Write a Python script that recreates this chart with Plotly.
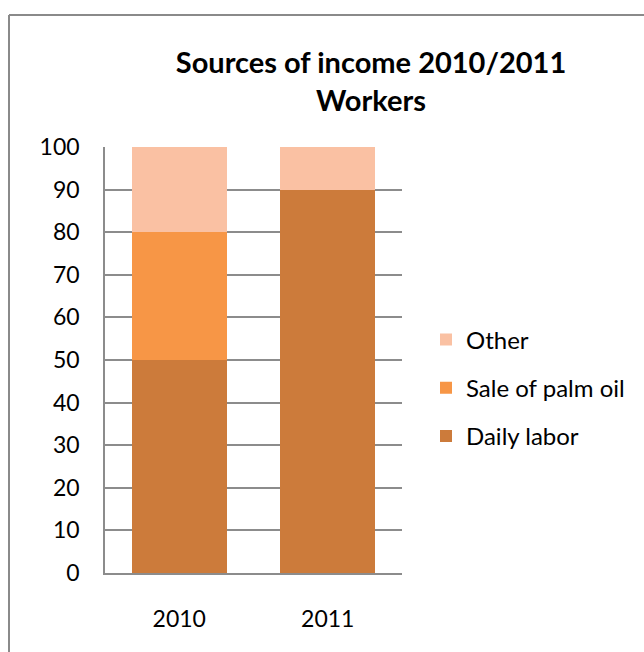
import plotly.graph_objects as go

# Share of income by source (%), workers
years = ["2010", "2011"]
daily_labor = [50, 90]
sale_of_palm_oil = [30, 0]
other = [20, 10]

series = [
    ("Daily labor", daily_labor, "#CC7B3B", 3),
    ("Sale of palm oil", sale_of_palm_oil, "#F79646", 2),
    ("Other", other, "#FAC1A3", 1),
]

FONT = "Lato"
GRID = "#8C8C8C"

fig = go.Figure()
for name, vals, color, rank in series:
    fig.add_trace(go.Bar(
        x=years, y=vals, name=name, legendgroup=name, legendrank=rank,
        marker=dict(color=color, line=dict(width=0)),
        hoverinfo="name+y",
    ))

W, H = 644, 652
L, R, T, B = 105, 242, 147, 79
pw, ph = W - L - R, H - T - B


def px_x(px):
    return (px - L) / pw


def px_y(py):
    return (H - B - py) / ph


# outer chart frame (left and top edges visible)
frame = dict(color="#8A8A8A", width=2)
fig.add_shape(type="line", xref="paper", yref="paper",
              x0=px_x(9), x1=px_x(9), y0=px_y(700), y1=px_y(15), line=frame)
fig.add_shape(type="line", xref="paper", yref="paper",
              x0=px_x(9), x1=px_x(700), y0=px_y(15), y1=px_y(15), line=frame)

fig.update_layout(
    width=W, height=H,
    margin=dict(l=L, r=R, t=T, b=B, pad=0),
    paper_bgcolor="white", plot_bgcolor="white",
    barmode="stack", bargap=0.36,
    font=dict(family=FONT, size=22, color="#000000"),
    title=dict(
        text="<b>Sources of income 2010/2011<br>Workers</b>",
        x=371 / W, xanchor="center",
        y=1 - 73 / H, yanchor="middle",
        font=dict(family=FONT, size=29, color="#000000"),
    ),
    xaxis=dict(
        showline=True, linecolor=GRID, linewidth=1.5,
        showgrid=False, ticks="", ticklabelstandoff=25,
        tickfont=dict(family=FONT, size=23),
    ),
    yaxis=dict(
        range=[0, 100], dtick=10, tick0=0,
        showline=True, linecolor=GRID, linewidth=1.5,
        showgrid=True, gridcolor=GRID, gridwidth=1.5,
        zeroline=False, ticks="", ticklabelstandoff=19,
        tickfont=dict(family=FONT, size=23),
    ),
    legend=dict(
        x=px_x(426), xanchor="left",
        y=px_y(388), yanchor="middle",
        traceorder="grouped", tracegroupgap=14,
        itemwidth=30,
        font=dict(family=FONT, size=24),
        bgcolor="rgba(0,0,0,0)",
    ),
)

fig.write_html("out.html")
